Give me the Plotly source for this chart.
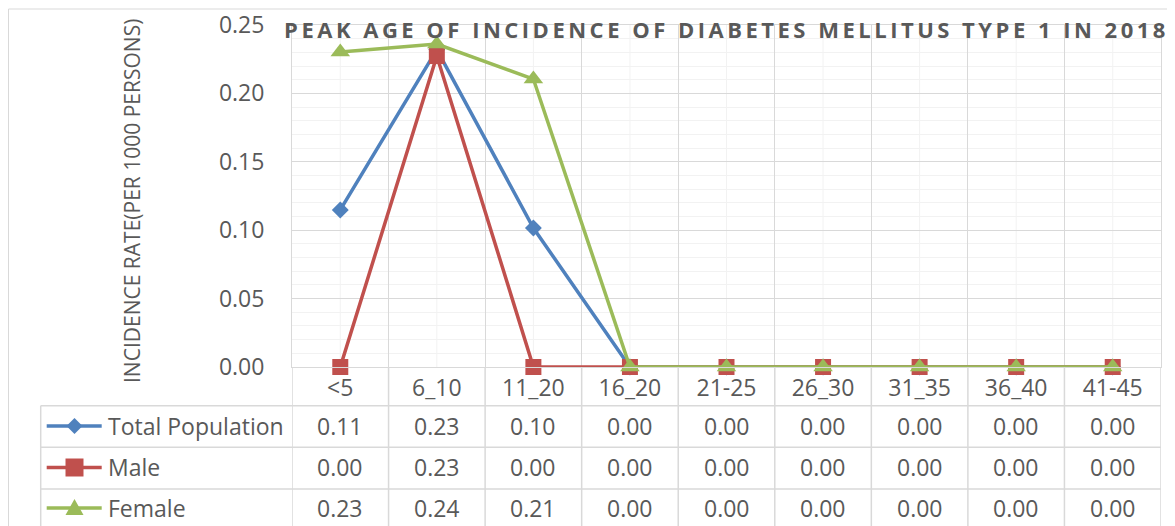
import plotly.graph_objects as go

categories = ["<5", "6_10", "11_20", "16_20", "21-25", "26_30", "31_35", "36_40", "41-45"]
total_population = [0.1148, 0.232, 0.1016, 0.0, 0.0, 0.0, 0.0, 0.0, 0.0]
male = [0.0, 0.2273, 0.0, 0.0, 0.0, 0.0, 0.0, 0.0, 0.0]
female = [0.2303, 0.2361, 0.2105, 0.0, 0.0, 0.0, 0.0, 0.0, 0.0]
y_ticks = [0.0, 0.05, 0.10, 0.15, 0.20, 0.25]

series = [
    ("Total Population", total_population, "#4F81BD", "diamond", 13),
    ("Male", male, "#C0504D", "square", 16),
    ("Female", female, "#9BBB59", "triangle-up", 17),
]

OFF = 8  # page body margin
W, H = 1175 - OFF, 526 - OFF
L, T = 292 - OFF, 25 - OFF
R = W - (1161 - OFF)
B = H - (367 - OFF)
PW, PH = W - L - R, H - T - B
TXT = "#595959"
GRID = "#d9d9d9"
MINOR = "#f2f2f2"
FONT = "Open Sans"


def px(xp):
    return (xp - OFF - L) / PW


def py(yp):
    return (H - B - (yp - OFF)) / PH


fig = go.Figure()
for name, vals, color, symbol, size in series:
    fig.add_trace(go.Scatter(
        x=categories, y=vals, name=name, mode="lines+markers",
        line=dict(color=color, width=3.5),
        marker=dict(symbol=symbol, size=size, color=color),
        showlegend=False, cliponaxis=False,
    ))

shapes = []
# light vertical lines at category centres
for c in categories:
    shapes.append(dict(type="line", xref="x", yref="paper", x0=c, x1=c, y0=0, y1=1,
                       line=dict(color=MINOR, width=1), layer="below"))
# table vertical lines at category boundaries
for i in range(len(categories) + 1):
    xb = i - 0.5
    shapes.append(dict(type="line", xref="x", yref="paper", x0=xb, x1=xb, y0=0, y1=-0.5,
                       line=dict(color=GRID, width=1.5)))
# table horizontal lines and left edge
row_lines = [405.7, 447.3, 489.0]
for yl in row_lines:
    shapes.append(dict(type="line", xref="paper", yref="paper", x0=px(40.7), x1=1, y0=py(yl), y1=py(yl),
                       line=dict(color=GRID, width=1.5)))
shapes.append(dict(type="line", xref="paper", yref="paper", x0=px(40.7), x1=px(40.7), y0=py(405.7), y1=-0.5,
                   line=dict(color=GRID, width=1.5)))
# outer chart border
shapes.append(dict(type="rect", xref="paper", yref="paper", x0=px(8.5), x1=1.05, y0=-0.6, y1=py(9),
                   line=dict(color=GRID, width=1), layer="below"))

row_centers = [426.0, 467.5, 508.0]
key_x0, key_x1, key_xm = px(46.7), px(101.7), px(74.5)
annotations = []
for (name, vals, color, symbol, size), yc in zip(series, row_centers):
    yr = py(yc)
    shapes.append(dict(type="line", xref="paper", yref="paper", x0=key_x0, x1=key_x1, y0=yr, y1=yr,
                       line=dict(color=color, width=3.5)))
    if symbol == "diamond":
        shapes.append(dict(type="path", xref="paper", yref="paper", xsizemode="pixel", ysizemode="pixel",
                           xanchor=key_xm, yanchor=yr, path="M -8 0 L 0 8 L 8 0 L 0 -8 Z",
                           fillcolor=color, line=dict(width=0)))
    elif symbol == "square":
        shapes.append(dict(type="rect", xref="paper", yref="paper", xsizemode="pixel", ysizemode="pixel",
                           xanchor=key_xm, yanchor=yr, x0=-9, x1=9, y0=-9, y1=9,
                           fillcolor=color, line=dict(width=0)))
    else:
        shapes.append(dict(type="path", xref="paper", yref="paper", xsizemode="pixel", ysizemode="pixel",
                           xanchor=key_xm, yanchor=yr, path="M -9 -7 L 9 -7 L 0 9 Z",
                           fillcolor=color, line=dict(width=0)))
    annotations.append(dict(xref="paper", yref="paper", x=px(106), y=yr, xanchor="left", yanchor="middle",
                            text=name, showarrow=False, font=dict(family=FONT, size=23, color=TXT)))
    for c, v in zip(categories, vals):
        annotations.append(dict(xref="x", yref="paper", x=c, y=yr, xanchor="center", yanchor="middle",
                                text=f"{v:.2f}", showarrow=False, font=dict(family=FONT, size=23, color=TXT)))

annotations.append(dict(xref="paper", yref="paper", x=px(131.5), y=py(201.5), textangle=-90,
                        xanchor="center", yanchor="middle", showarrow=False,
                        text="INCIDENCE RATE(PER 1000 PERSONS)",
                        font=dict(family=FONT, size=21, color=TXT)))

fig.update_layout(
    width=W, height=H,
    margin=dict(l=L, r=R, t=T, b=B, autoexpand=False),
    paper_bgcolor="white", plot_bgcolor="white",
    title=dict(
        text='<span style="letter-spacing:3.5px">PEAK AGE OF INCIDENCE OF DIABETES MELLITUS TYPE 1 IN 2018</span>',
        x=0.5, xref="paper", xanchor="center", y=1 - (30 - OFF) / H, yanchor="middle",
        font=dict(family=FONT, size=22, color=TXT, weight="bold"),
    ),
    shapes=shapes,
    annotations=annotations,
    xaxis=dict(
        type="category", categoryorder="array", categoryarray=categories,
        range=[-0.5, len(categories) - 0.5], tickson="boundaries",
        showgrid=True, gridcolor=GRID, gridwidth=1,
        showline=True, linecolor=GRID, mirror=True,
        ticks="", tickfont=dict(family=FONT, size=23, color=TXT),
        fixedrange=True,
    ),
    yaxis=dict(
        range=[0, 0.25], tickmode="array", tickvals=y_ticks, tickformat=".2f",
        showgrid=True, gridcolor=GRID, gridwidth=1,
        minor=dict(dtick=0.01, showgrid=True, gridcolor=MINOR, gridwidth=1),
        zeroline=False, showline=True, linecolor=GRID, mirror=True,
        ticks="", ticklabelstandoff=22,
        tickfont=dict(family=FONT, size=23, color=TXT),
        fixedrange=True,
    ),
    showlegend=False,
)

fig.write_html("out.html")
